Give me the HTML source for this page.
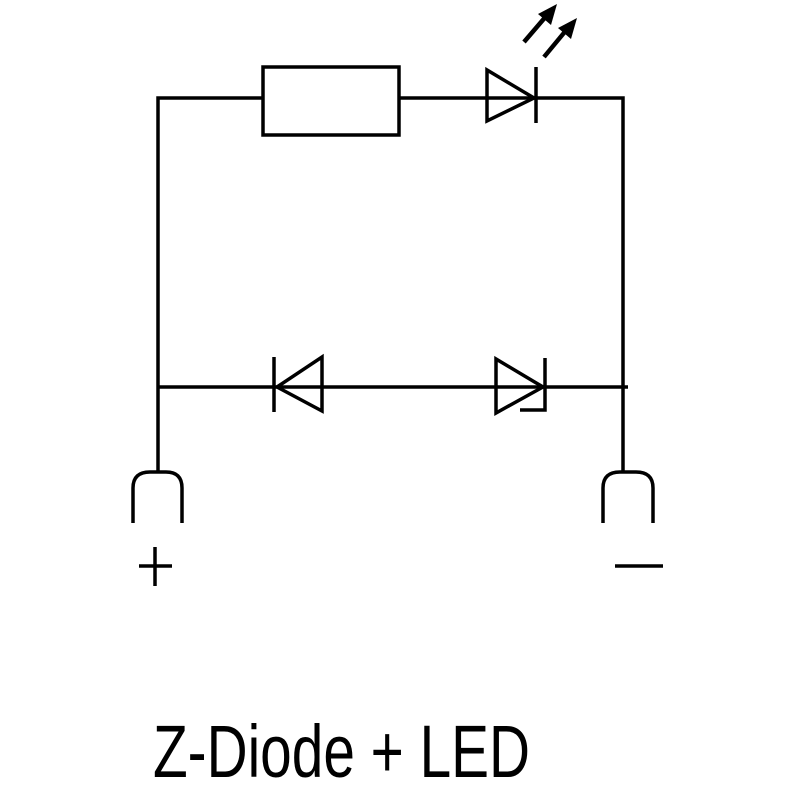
<!DOCTYPE html>
<html><head><meta charset="utf-8"><style>html,body{margin:0;padding:0;background:#fff}svg{display:block}</style></head>
<body>
<svg width="800" height="800" viewBox="0 0 800 800" xmlns="http://www.w3.org/2000/svg">
<g stroke="#000" stroke-width="3.5" fill="none">
<polyline points="158,472 158,98 263,98"/>
<rect x="263" y="67" width="136" height="68"/>
<line x1="399" y1="98" x2="536" y2="98"/>
<polyline points="536,98 623,98 623,472"/>
<polygon points="487,70 487,121 534,98"/>
<line x1="536" y1="67" x2="536" y2="123"/>
<line x1="158" y1="387" x2="628" y2="387"/>
<line x1="274" y1="357" x2="274" y2="412"/>
<polygon points="322,357 322,411 277,387"/>
<polygon points="496,359 496,413 543,387"/>
<polyline points="545,358 545,410 520,410"/>
<path d="M133,523 V488 Q133,472 150,472 H166 Q182,472 182,488 V523"/>
<path d="M603,523 V488 Q603,472 620,472 H636 Q653,472 653,488 V523"/>
<line x1="139" y1="566" x2="172" y2="566"/>
<line x1="155" y1="547" x2="155" y2="586"/>
<line x1="615" y1="566" x2="663" y2="566"/>
<line x1="524" y1="42" x2="548" y2="14" stroke-width="4.5"/>
<line x1="544" y1="57" x2="568" y2="28" stroke-width="4.5"/>
</g>
<g fill="#000">
<polygon points="557,4 538,14 551,25"/>
<polygon points="577,18 558,28 571,39"/>
</g>
<text x="153" y="777" font-family="Liberation Sans, sans-serif" font-size="74" textLength="377" lengthAdjust="spacingAndGlyphs" fill="#000">Z-Diode + LED</text>
</svg>
</body></html>
